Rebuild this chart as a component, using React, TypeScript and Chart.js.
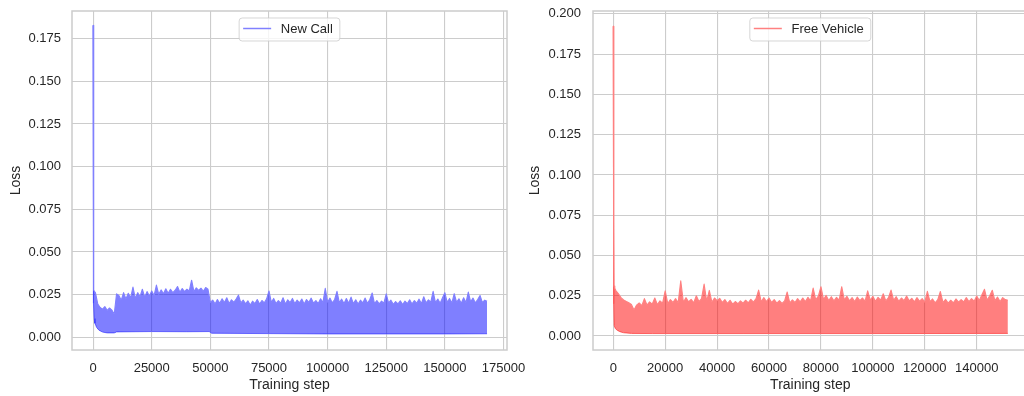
import { useEffect, useRef } from "react";
import { Chart, registerables } from "chart.js";

Chart.register(...registerables);

const FONT = "'Liberation Sans', Arial, Helvetica, sans-serif";
const TEXT = "#262626";
const GRID = "#cccccc";

// ---------- New Call (blue) ----------
const NEW_CALL_LABEL = "New Call";
const NEW_CALL_HEAD_STEPS = [0, 150, 350, 700];
const NEW_CALL_HEAD_UPPER = [0.1828, 0.06, 0.0278, 0.0266];
const NEW_CALL_UPPER_INTERVAL = 1000;
const NEW_CALL_UPPER = [
  0.0262, 0.0195, 0.0175, 0.0165, 0.018, 0.0158, 0.0172, 0.016, 0.0135, 0.0255,
  0.0245, 0.0218, 0.0262, 0.0225, 0.0258, 0.0232, 0.0295, 0.0228, 0.0262, 0.0238,
  0.0282, 0.0236, 0.0268, 0.0242, 0.0272, 0.0245, 0.0306, 0.0252, 0.0278, 0.0256,
  0.0285, 0.0258, 0.0282, 0.0262, 0.0276, 0.0298, 0.0264, 0.0286, 0.0268, 0.0282,
  0.0272, 0.0335, 0.0268, 0.029, 0.0275, 0.0288, 0.027, 0.0292, 0.0282, 0.0205,
  0.0218, 0.0196, 0.0222, 0.02, 0.0226, 0.0204, 0.0232, 0.0198, 0.022, 0.0206,
  0.0225, 0.0248, 0.0202, 0.0218, 0.0196, 0.0214, 0.019, 0.0212, 0.0198, 0.0222,
  0.0195, 0.0216, 0.0202, 0.0226, 0.0272, 0.0205, 0.0228, 0.0198, 0.0215, 0.02,
  0.0232, 0.0196, 0.022, 0.0204, 0.0228, 0.0198, 0.0218, 0.0202, 0.0225, 0.0196,
  0.0222, 0.0205, 0.023, 0.02, 0.0216, 0.0198, 0.0226, 0.0204, 0.0287, 0.0206,
  0.023, 0.0202, 0.0222, 0.027, 0.0204, 0.0224, 0.0198, 0.0228, 0.02, 0.0236,
  0.0198, 0.022, 0.0195, 0.0218, 0.0202, 0.023, 0.02, 0.0222, 0.026, 0.0198,
  0.0216, 0.0196, 0.0212, 0.02, 0.0255, 0.0202, 0.0218, 0.0194, 0.021, 0.0196,
  0.0214, 0.0192, 0.0212, 0.0198, 0.022, 0.0196, 0.0215, 0.02, 0.0224, 0.0198,
  0.0238, 0.0202, 0.022, 0.0206, 0.027, 0.0204, 0.0225, 0.02, 0.0232, 0.0262,
  0.0205, 0.0228, 0.0202, 0.0256, 0.0206, 0.0226, 0.02, 0.0232, 0.0204, 0.0265,
  0.0208, 0.023, 0.0202, 0.0222, 0.0245, 0.0205, 0.0218, 0.0212,
];
const NEW_CALL_LOWER_STEPS = [
  0, 150, 400, 800, 1500, 2500, 4000, 6000, 9000, 10000, 25000, 40000, 49500, 50500,
  75000, 100000, 125000, 150000, 168000,
];
const NEW_CALL_LOWER = [
  0.1828, 0.02, 0.011, 0.0082, 0.0058, 0.0042, 0.0031, 0.0026, 0.0026, 0.0032, 0.0034,
  0.0033, 0.0034, 0.0024, 0.0022, 0.002, 0.002, 0.002, 0.0021,
];
const NEW_CALL_X_TICKS = [0, 25000, 50000, 75000, 100000, 125000, 150000, 175000];
const NEW_CALL_Y_TICKS = [0, 0.025, 0.05, 0.075, 0.1, 0.125, 0.15, 0.175];

// ---------- Free Vehicle (red) ----------
const FREE_VEHICLE_LABEL = "Free Vehicle";
const FREE_VEHICLE_HEAD_STEPS = [0, 150, 300, 600];
const FREE_VEHICLE_HEAD_UPPER = [0.1924, 0.07, 0.031, 0.0296];
const FREE_VEHICLE_UPPER_INTERVAL = 1000;
const FREE_VEHICLE_UPPER = [
  0.0282, 0.0262, 0.0238, 0.0224, 0.0215, 0.0206, 0.0196, 0.0162, 0.0192, 0.0205,
  0.0188, 0.0232, 0.0192, 0.0212, 0.0198, 0.0236, 0.0195, 0.0218, 0.0204, 0.028,
  0.0202, 0.0226, 0.0208, 0.0232, 0.0206, 0.0342, 0.021, 0.0238, 0.0212, 0.0228,
  0.0206, 0.025, 0.0214, 0.0232, 0.0322, 0.0215, 0.0283, 0.021, 0.0236, 0.022,
  0.0234, 0.0208, 0.0226, 0.0202, 0.0222, 0.0198, 0.0214, 0.02, 0.0218, 0.0204,
  0.0222, 0.0206, 0.0228, 0.021, 0.0232, 0.0285, 0.0212, 0.0238, 0.0214, 0.0236,
  0.0208, 0.0226, 0.0204, 0.022, 0.0202, 0.0218, 0.0273, 0.0206, 0.0224, 0.0208,
  0.0232, 0.0212, 0.0236, 0.0214, 0.024, 0.0218, 0.0298, 0.0224, 0.0248, 0.0306,
  0.0226, 0.0252, 0.022, 0.0244, 0.0218, 0.024, 0.0222, 0.0306, 0.0224, 0.0246,
  0.0218, 0.0238, 0.0214, 0.0242, 0.022, 0.0236, 0.0216, 0.028, 0.0222, 0.0246,
  0.0216, 0.024, 0.0222, 0.0262, 0.0218, 0.0238, 0.0285, 0.0222, 0.0244, 0.0216,
  0.0236, 0.022, 0.0248, 0.0218, 0.0234, 0.0212, 0.0238, 0.0216, 0.0232, 0.021,
  0.0277, 0.0214, 0.023, 0.0206, 0.0226, 0.0276, 0.0208, 0.0228, 0.0204, 0.0222,
  0.0206, 0.023, 0.021, 0.0226, 0.0212, 0.0238, 0.0214, 0.0232, 0.0216, 0.0248,
  0.022, 0.0256, 0.029, 0.0222, 0.025, 0.0284, 0.022, 0.0242, 0.0214, 0.0238,
  0.0226, 0.0222,
];
const FREE_VEHICLE_LOWER_STEPS = [0, 150, 300, 800, 1500, 2500, 4000, 7000, 15000, 50000, 100000, 152000];
const FREE_VEHICLE_LOWER = [0.1924, 0.02, 0.0065, 0.0046, 0.0036, 0.0027, 0.002, 0.0016, 0.0015, 0.0015, 0.0015, 0.0016];
const FREE_VEHICLE_X_TICKS = [0, 20000, 40000, 60000, 80000, 100000, 120000, 140000];
const FREE_VEHICLE_Y_TICKS = [0, 0.025, 0.05, 0.075, 0.1, 0.125, 0.15, 0.175, 0.2];

const X_TITLE = "Training step";
const Y_TITLE = "Loss";

type Pt = { x: number; y: number };

function upperPoints(headSteps: number[], headValues: number[], interval: number, values: number[]): Pt[] {
  const pts: Pt[] = headSteps.map((s, i) => ({ x: s, y: headValues[i] }));
  values.forEach((v, i) => pts.push({ x: (i + 1) * interval, y: v }));
  return pts;
}

function pairPoints(steps: number[], values: number[]): Pt[] {
  return steps.map((s, i) => ({ x: s, y: values[i] }));
}

type PanelSpec = {
  label: string;
  upper: Pt[];
  lower: Pt[];
  line: string;
  fill: string;
  xMin: number;
  xMax: number;
  yMin: number;
  yMax: number;
  xTicks: number[];
  yTicks: number[];
  left: number;
  width: number;
  padRight: number;
  yAxisWidth: number;
  yTickPad: number;
  yTitlePad: number;
};

function Panel({ spec }: { spec: PanelSpec }) {
  const ref = useRef<HTMLCanvasElement>(null);
  useEffect(() => {
    const canvas = ref.current;
    if (!canvas) return;

    const frame = {
      id: "frame",
      afterDatasetsDraw(chart: any) {
        const { ctx, chartArea: a } = chart;
        ctx.save();
        ctx.strokeStyle = GRID;
        ctx.lineWidth = 1.5;
        ctx.strokeRect(a.left, a.top, a.right - a.left, a.bottom - a.top);
        ctx.restore();
      },
    };

    const boxLegend = {
      id: "boxLegend",
      afterDraw(chart: any) {
        const { ctx, chartArea: a } = chart;
        ctx.save();
        ctx.font = `13px ${FONT}`;
        const tw = ctx.measureText(spec.label).width;
        const w = 4 + 28 + 9.7 + tw + 7;
        const h = 23;
        const x0 = (a.left + a.right) / 2 - w / 2;
        const y0 = a.top + 7;
        ctx.beginPath();
        ctx.roundRect(x0, y0, w, h, 3);
        ctx.fillStyle = "rgba(255,255,255,0.8)";
        ctx.fill();
        ctx.strokeStyle = "rgba(204,204,204,0.8)";
        ctx.lineWidth = 1;
        ctx.stroke();
        ctx.beginPath();
        ctx.moveTo(x0 + 4, y0 + 10.5);
        ctx.lineTo(x0 + 32, y0 + 10.5);
        ctx.strokeStyle = spec.line;
        ctx.lineWidth = 1.5;
        ctx.stroke();
        ctx.fillStyle = TEXT;
        ctx.textBaseline = "alphabetic";
        ctx.textAlign = "left";
        ctx.fillText(spec.label, x0 + 41.7, y0 + 15.3);
        ctx.restore();
      },
    };

    const chart = new Chart(canvas, {
      type: "line",
      data: {
        datasets: [
          {
            label: spec.label,
            data: spec.upper,
            borderColor: spec.line,
            backgroundColor: spec.fill,
            borderWidth: 1.1,
            borderJoinStyle: "round",
            pointRadius: 0,
            tension: 0,
            fill: "+1",
          },
          {
            label: spec.label + " lower",
            data: spec.lower,
            borderColor: spec.line,
            backgroundColor: spec.fill,
            borderWidth: 1,
            borderJoinStyle: "round",
            pointRadius: 0,
            tension: 0,
            fill: false,
          },
        ],
      },
      options: {
        animation: false,
        responsive: false,
        events: [],
        layout: { padding: { left: 0, top: 11, right: spec.padRight, bottom: 0 } },
        plugins: { legend: { display: false }, tooltip: { enabled: false } },
        scales: {
          x: {
            type: "linear",
            min: spec.xMin,
            max: spec.xMax,
            afterBuildTicks: (s: any) => {
              s.ticks = spec.xTicks.map((v) => ({ value: v }));
            },
            afterFit: (s: any) => {
              s.height = 46;
              s.paddingLeft = 0;
              s.paddingRight = 0;
            },
            grid: { color: GRID, lineWidth: 1.1, drawTicks: false },
            border: { display: false },
            ticks: {
              autoSkip: false,
              maxRotation: 0,
              padding: 11,
              color: TEXT,
              font: { family: FONT, size: 13 },
              callback: (v: any) => String(v),
            },
            title: {
              display: true,
              text: X_TITLE,
              color: TEXT,
              font: { family: FONT, size: 14 },
              padding: { top: 0, bottom: 2 },
            },
          },
          y: {
            type: "linear",
            min: spec.yMin,
            max: spec.yMax,
            afterBuildTicks: (s: any) => {
              s.ticks = spec.yTicks.map((v) => ({ value: v }));
            },
            afterFit: (s: any) => {
              s.width = spec.yAxisWidth;
              s.paddingTop = 0;
              s.paddingBottom = 0;
            },
            grid: { color: GRID, lineWidth: 1.1, drawTicks: false },
            border: { display: false },
            ticks: {
              padding: spec.yTickPad,
              color: TEXT,
              font: { family: FONT, size: 13 },
              callback: (v: any) => Number(v).toFixed(3),
            },
            title: {
              display: true,
              text: Y_TITLE,
              color: TEXT,
              font: { family: FONT, size: 14 },
              padding: { top: spec.yTitlePad, bottom: 0 },
            },
          },
        },
      },
      plugins: [frame, boxLegend],
    } as any);
    return () => chart.destroy();
  }, [spec]);

  return (
    <canvas
      ref={ref}
      width={spec.width}
      height={396}
      style={{ position: "absolute", left: spec.left, top: 0, width: spec.width, height: 396 }}
    />
  );
}

const LEFT_SPEC: PanelSpec = {
  label: NEW_CALL_LABEL,
  upper: upperPoints(NEW_CALL_HEAD_STEPS, NEW_CALL_HEAD_UPPER, NEW_CALL_UPPER_INTERVAL, NEW_CALL_UPPER),
  lower: pairPoints(NEW_CALL_LOWER_STEPS, NEW_CALL_LOWER),
  line: "#8080ff",
  fill: "rgba(0,0,255,0.5)",
  xMin: -9000,
  xMax: 176500,
  yMin: -0.0074,
  yMax: 0.1912,
  xTicks: NEW_CALL_X_TICKS,
  yTicks: NEW_CALL_Y_TICKS,
  left: 0,
  width: 560,
  padRight: 53,
  yAxisWidth: 72,
  yTickPad: 11,
  yTitlePad: 8,
};

const RIGHT_SPEC: PanelSpec = {
  label: FREE_VEHICLE_LABEL,
  upper: upperPoints(FREE_VEHICLE_HEAD_STEPS, FREE_VEHICLE_HEAD_UPPER, FREE_VEHICLE_UPPER_INTERVAL, FREE_VEHICLE_UPPER),
  lower: pairPoints(FREE_VEHICLE_LOWER_STEPS, FREE_VEHICLE_LOWER),
  line: "#ff8080",
  fill: "rgba(255,0,0,0.5)",
  xMin: -7800,
  xMax: 159600,
  yMin: -0.0087,
  yMax: 0.2018,
  xTicks: FREE_VEHICLE_X_TICKS,
  yTicks: FREE_VEHICLE_Y_TICKS,
  left: 512,
  width: 528,
  padRight: 12.4,
  yAxisWidth: 81,
  yTickPad: 12,
  yTitlePad: 15,
};

export default function App() {
  return (
    <div
      style={{
        position: "fixed",
        left: 0,
        top: 0,
        width: 1024,
        height: 396,
        overflow: "hidden",
        background: "#ffffff",
      }}
    >
      <Panel spec={LEFT_SPEC} />
      <Panel spec={RIGHT_SPEC} />
    </div>
  );
}
